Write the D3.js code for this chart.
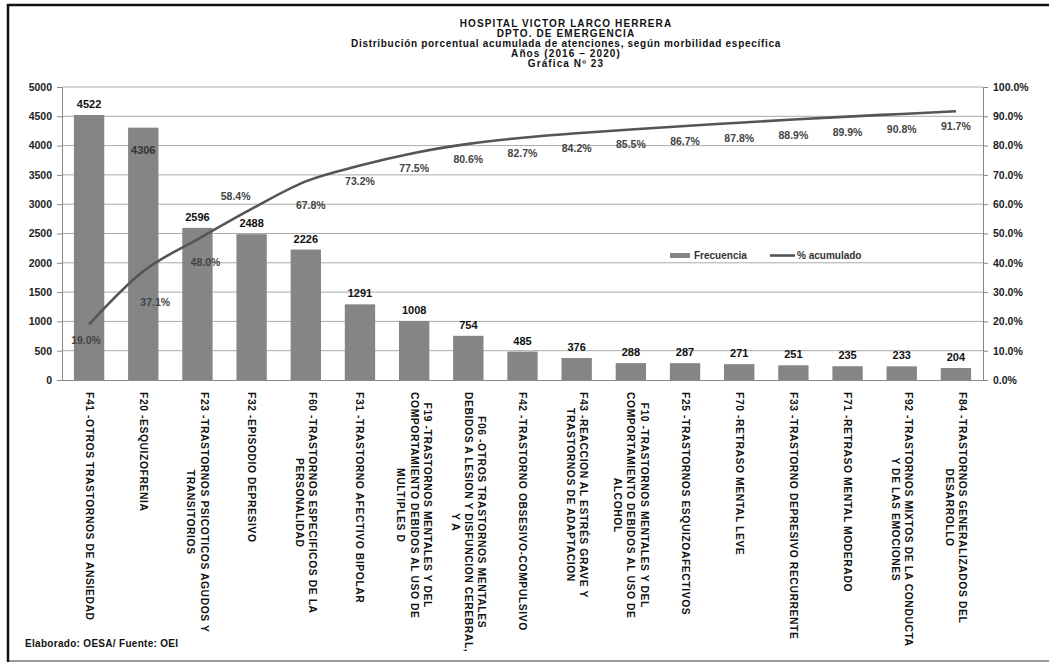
<!DOCTYPE html>
<html><head><meta charset="utf-8">
<script src="https://cdn.jsdelivr.net/npm/d3@7"></script>
<style>
body{margin:0;background:#fff;}
text{font-family:"Liberation Sans",Arial,sans-serif;font-weight:bold;}
</style></head>
<body><svg id="c" width="1049" height="664"></svg>
<script>
const titleLines = ["HOSPITAL VICTOR LARCO HERRERA","DPTO. DE EMERGENCIA","Distribución porcentual acumulada de atenciones, según morbilidad específica","Años (2016 – 2020)","Gráfica Nº 23"];
const categories = [
 ["F41 -OTROS TRASTORNOS DE ANSIEDAD"],
 ["F20 -ESQUIZOFRENIA"],
 ["F23 -TRASTORNOS PSICOTICOS AGUDOS Y","TRANSITORIOS"],
 ["F32 -EPISODIO DEPRESIVO"],
 ["F60 -TRASTORNOS ESPECIFICOS DE LA","PERSONALIDAD"],
 ["F31 -TRASTORNO AFECTIVO BIPOLAR"],
 ["F19 -TRASTORNOS MENTALES Y DEL","COMPORTAMIENTO DEBIDOS AL USO DE","MULTIPLES D"],
 ["F06 -OTROS TRASTORNOS MENTALES","DEBIDOS A LESION Y DISFUNCION CEREBRAL,","Y A"],
 ["F42 -TRASTORNO OBSESIVO-COMPULSIVO"],
 ["F43 -REACCION AL ESTRÉS GRAVE Y","TRASTORNOS DE ADAPTACION"],
 ["F10 -TRASTORNOS MENTALES Y DEL","COMPORTAMIENTO DEBIDOS AL USO DE","ALCOHOL"],
 ["F25 -TRASTORNOS ESQUIZOAFECTIVOS"],
 ["F70 -RETRASO MENTAL LEVE"],
 ["F33 -TRASTORNO DEPRESIVO RECURRENTE"],
 ["F71 -RETRASO MENTAL MODERADO"],
 ["F92 -TRASTORNOS MIXTOS DE LA CONDUCTA","Y DE LAS EMOCIONES"],
 ["F84 -TRASTORNOS GENERALIZADOS DEL","DESARROLLO"]
];
const frecuencia = [4522,4306,2596,2488,2226,1291,1008,754,485,376,288,287,271,251,235,233,204];
const acumulado = [19.0,37.1,48.0,58.4,67.8,73.2,77.5,80.6,82.7,84.2,85.5,86.7,87.8,88.9,89.9,90.8,91.7];
const leftTicks = [0,500,1000,1500,2000,2500,3000,3500,4000,4500,5000];
const rightTicks = [0,10,20,30,40,50,60,70,80,90,100];
const legendLabels = ["Frecuencia","% acumulado"];
const footer = "Elaborado: OESA/ Fuente: OEI";

const svg = d3.select("#c");
const L = 62, R = 983, T = 87, B = 380;
const idx = d3.range(categories.length);
const x = d3.scaleBand().domain(idx).range([L, R]).paddingInner(0.44).paddingOuter(0.22);
const y = d3.scaleLinear().domain([0,5000]).range([B, T]);
const y2 = d3.scaleLinear().domain([0,100]).range([B, T]);

// frame
svg.append("path").attr("d",`M8,662 L8,5 L1049,5`).attr("fill","none").attr("stroke","#111").attr("stroke-width",2.5);
svg.append("line").attr("x1",8).attr("x2",1049).attr("y1",661).attr("y2",661).attr("stroke","#333").attr("stroke-width",1);

// title
svg.append("g").selectAll("text").data(titleLines).join("text")
  .attr("x",566).attr("y",(d,i)=>[26.5,36.5,46.5,56.5,66.5][i])
  .attr("text-anchor","middle").attr("font-size",10).attr("letter-spacing",(d,i)=>i===2?0.7:1.1)
  .attr("fill","#111").text(d=>d);

// gridlines
svg.append("g").selectAll("line").data(leftTicks.filter(d=>d>0)).join("line")
  .attr("x1",L).attr("x2",R).attr("y1",d=>y(d)).attr("y2",d=>y(d))
  .attr("stroke","#aaa").attr("stroke-width",1);

// left axis
const ga = svg.append("g").attr("transform",`translate(${L},0)`)
  .call(d3.axisLeft(y).tickValues(leftTicks).tickSize(5).tickPadding(5).tickSizeOuter(0).tickFormat(d3.format("d")));
ga.select(".domain").attr("stroke","#888");
ga.selectAll(".tick line").attr("stroke","#888");
ga.selectAll("text").attr("font-size",10.5).attr("fill","#222").attr("font-family","Liberation Sans, Arial").attr("font-weight","bold");

// right axis
const gr = svg.append("g").attr("transform",`translate(${R},0)`)
  .call(d3.axisRight(y2).tickValues(rightTicks).tickSize(5).tickPadding(5).tickSizeOuter(0).tickFormat(d=>d.toFixed(1)+"%"));
gr.select(".domain").attr("stroke","#888");
gr.selectAll(".tick line").attr("stroke","#888");
gr.selectAll("text").attr("font-size",10.5).attr("fill","#222").attr("font-family","Liberation Sans, Arial").attr("font-weight","bold");

// bottom axis
const gb = svg.append("g").attr("transform",`translate(0,${B})`)
  .call(d3.axisBottom(x).tickSize(0).tickFormat(""));
gb.select(".domain").attr("stroke","#888");

// bars
svg.append("g").selectAll("rect").data(frecuencia).join("rect")
  .attr("x",(d,i)=>x(i)).attr("width",x.bandwidth())
  .attr("y",d=>y(d)).attr("height",d=>B-y(d)).attr("fill","#858585");

// bar labels
svg.append("g").selectAll("text").data(frecuencia).join("text")
  .attr("x",(d,i)=>x(i)+x.bandwidth()/2)
  .attr("y",(d,i)=> i===1 ? y(d)+26 : y(d)-7)
  .attr("text-anchor","middle").attr("font-size",11).attr("fill",(d,i)=>i===1?"#333":"#111").text(d=>d);

// line
const cx = i => x(i)+x.bandwidth()/2;
svg.append("path").datum(acumulado)
  .attr("d", d3.line().x((d,i)=>cx(i)).y(d=>y2(d)).curve(d3.curveMonotoneX))
  .attr("fill","none").attr("stroke","#555").attr("stroke-width",2.6);

// percent labels
const pOff = {0:[-3,16],1:[12,31],2:[8,23],3:[-16,-13],4:[5,24]};
svg.append("g").selectAll("text").data(acumulado).join("text")
  .attr("x",(d,i)=>cx(i)+(pOff[i]?pOff[i][0]:0))
  .attr("y",(d,i)=>y2(d)+(pOff[i]?pOff[i][1]:15)+4)
  .attr("text-anchor","middle").attr("font-size",10.5).attr("fill","#444")
  .text(d=>d.toFixed(1)+"%");

// legend
const lg = svg.append("g");
lg.append("rect").attr("x",670).attr("y",253).attr("width",20).attr("height",5).attr("fill","#858585");
lg.append("text").attr("x",694).attr("y",259).attr("font-size",10).attr("font-weight","normal").attr("fill","#333").text(legendLabels[0]);
lg.append("line").attr("x1",770).attr("x2",795).attr("y1",255.5).attr("y2",255.5).attr("stroke","#555").attr("stroke-width",2.6);
lg.append("text").attr("x",797).attr("y",259).attr("font-size",10).attr("fill","#333").text(legendLabels[1]);

// category labels (rotated)
const lh = 13.3, startY = 392;
idx.forEach(i=>{
  const lines = categories[i];
  const g = svg.append("g").attr("transform",`translate(${cx(i)},${startY}) rotate(90)`);
  const ts = g.selectAll("text").data(lines).join("text")
    .attr("y",(d,k)=>(k-(lines.length-1)/2)*lh)
    .attr("dominant-baseline","central")
    .attr("font-size",10.3).attr("letter-spacing",0.6).attr("fill","#111").text(d=>d);
  let mx = 0; ts.each(function(){ mx = Math.max(mx, this.getComputedTextLength()); });
  ts.attr("text-anchor","middle").attr("x",mx/2);
});

// footer
svg.append("text").attr("x",25).attr("y",647).attr("font-size",10).attr("letter-spacing",0.3).attr("fill","#111").text(footer);
</script></body></html>
